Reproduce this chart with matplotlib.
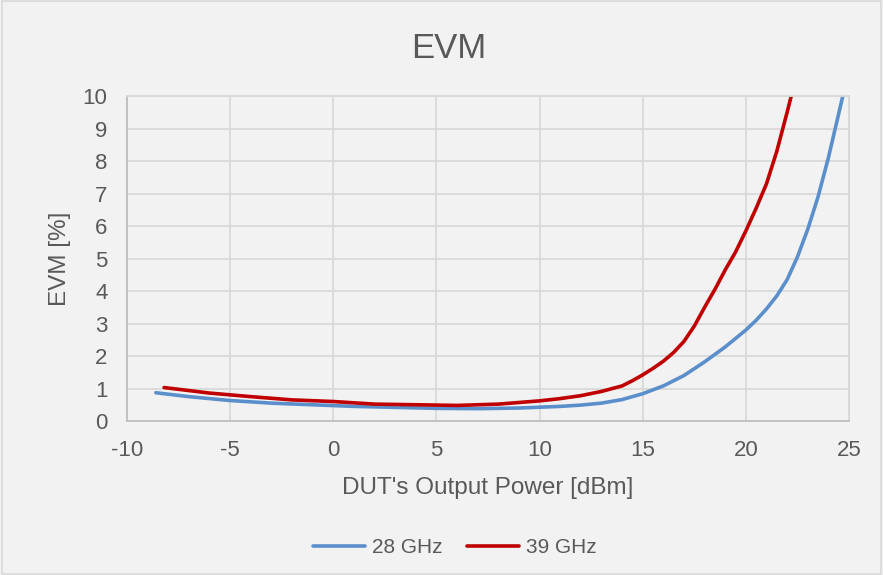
import matplotlib
matplotlib.use("Agg")
import matplotlib.pyplot as plt
from matplotlib.patches import Rectangle

# 28 GHz curve
x_28 = [-8.6, -7, -5, -3, -1, 1, 3, 5, 7, 9, 11, 12, 13, 14, 15, 16, 17, 18, 19, 20, 20.5, 21, 21.5, 22, 22.5, 23, 23.5, 24, 24.7]
evm_28 = [0.87, 0.75, 0.63, 0.55, 0.50, 0.45, 0.42, 0.39, 0.38, 0.40, 0.45, 0.49, 0.55, 0.66, 0.84, 1.08, 1.40, 1.82, 2.28, 2.8, 3.1, 3.45, 3.85, 4.35, 5.05, 5.9, 6.9, 8.1, 10.0]

# 39 GHz curve
x_39 = [-8.2, -6, -4, -2, 0, 2, 4, 6, 8, 10, 11, 12, 13, 14, 14.5, 15, 15.5, 16, 16.5, 17, 17.5, 18, 18.5, 19, 19.5, 20, 20.5, 21, 21.5, 22, 22.2]
evm_39 = [1.03, 0.86, 0.75, 0.65, 0.60, 0.52, 0.50, 0.48, 0.52, 0.62, 0.69, 0.78, 0.91, 1.08, 1.24, 1.42, 1.62, 1.84, 2.11, 2.45, 2.92, 3.5, 4.05, 4.65, 5.2, 5.85, 6.55, 7.3, 8.3, 9.5, 10.0]

x_ticks = [-10, -5, 0, 5, 10, 15, 20, 25]
y_ticks = list(range(0, 11))

plt.rcParams['font.family'] = ['Liberation Sans', 'DejaVu Sans']
plt.rcParams['axes.unicode_minus'] = False
txt = "#595959"
grid = "#D9D9D9"
bg = "#F2F2F2"

fig = plt.figure(figsize=(8.83, 5.75), dpi=100, facecolor=bg)
fig.patches.append(Rectangle((0.002, 0.002), 0.996, 0.996, transform=fig.transFigure,
                             fill=False, edgecolor=grid, lw=1.2))
ax = fig.add_axes([0.1438, 0.2678, 0.8177, 0.5652], facecolor=bg)

ax.plot(x_28, evm_28, color="#5B8FCB", lw=2.6, label="28 GHz", solid_capstyle="round")
ax.plot(x_39, evm_39, color="#C00000", lw=2.6, label="39 GHz", solid_capstyle="round")

ax.set_xlim(-10, 25)
ax.set_ylim(0, 10)
ax.set_xticks(x_ticks)
ax.set_yticks(y_ticks)
ax.grid(True, color=grid, lw=1.3)
ax.set_axisbelow(True)
ax.tick_params(length=0, labelsize=16, colors=txt, pad=14)
for s in ["top", "right"]:
    ax.spines[s].set_color(grid)
    ax.spines[s].set_linewidth(1.3)
for s in ["left", "bottom"]:
    ax.spines[s].set_color("#BFBFBF")
    ax.spines[s].set_linewidth(1.3)

ax.set_xlabel("DUT's Output Power [dBm]", fontsize=17.5, color=txt)
ax.set_ylabel("EVM [%]", fontsize=17.5, color=txt)
ax.xaxis.set_label_coords(0.5, -0.206)
ax.yaxis.set_label_coords(-0.093, 0.5)
ax.xaxis.label.set_va("center")
ax.yaxis.label.set_va("center")
fig.text(0.508, 0.915, "EVM", ha="center", va="center", fontsize=25, color=txt)

fig.legend(loc="center", bbox_to_anchor=(0.515, 0.047), ncol=2, frameon=False,
           fontsize=15, labelcolor=txt, handlelength=2.5, handletextpad=0.3, columnspacing=1.2)

fig.savefig("out.png", dpi=100, facecolor=bg)
